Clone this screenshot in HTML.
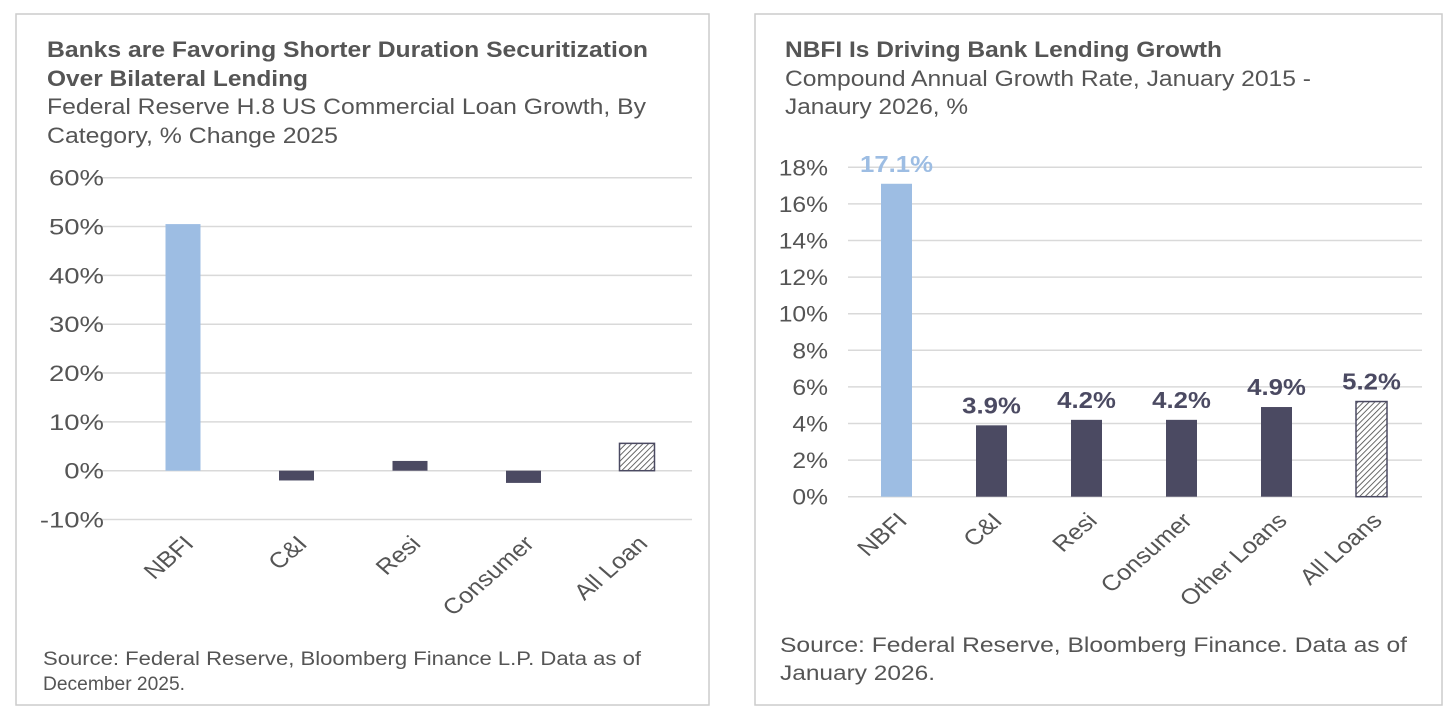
<!DOCTYPE html>
<html><head><meta charset="utf-8">
<style>
html,body{margin:0;padding:0;background:#fff;width:1456px;height:717px;overflow:hidden;font-family:"Liberation Sans",Arial,sans-serif;}
svg{position:absolute;left:0;top:0;}
</style></head>
<body>
<svg id="c" width="1456" height="717" xmlns="http://www.w3.org/2000/svg">
<defs>
<pattern id="hatch" width="4" height="4" patternUnits="userSpaceOnUse" patternTransform="rotate(45)">
<rect width="4" height="4" fill="#fff"/><line x1="0" y1="0" x2="0" y2="4" stroke="#444" stroke-width="1.6"/>
</pattern>
</defs>
<rect x="16" y="14" width="693" height="691" fill="none" stroke="#ccc" stroke-width="1.5"/>
<rect x="755" y="14" width="687" height="691" fill="none" stroke="#ccc" stroke-width="1.5"/>
<g font-family="Liberation Sans, Arial, sans-serif" fill="#555" lengthAdjust="spacingAndGlyphs">
<text x="47" y="57" font-size="22" font-weight="bold" textLength="601" lengthAdjust="spacingAndGlyphs">Banks are Favoring Shorter Duration Securitization</text>
<text x="47" y="86" font-size="22" font-weight="bold" textLength="261" lengthAdjust="spacingAndGlyphs">Over Bilateral Lending</text>
<text x="47" y="114" font-size="22" textLength="599" lengthAdjust="spacingAndGlyphs">Federal Reserve H.8 US Commercial Loan Growth, By</text>
<text x="47" y="143" font-size="22" textLength="291" lengthAdjust="spacingAndGlyphs">Category, % Change 2025</text>
<text x="43" y="665" font-size="19" textLength="598" lengthAdjust="spacingAndGlyphs">Source: Federal Reserve, Bloomberg Finance L.P. Data as of</text>
<text x="43" y="690" font-size="19" textLength="142" lengthAdjust="spacingAndGlyphs">December 2025.</text>
<text x="785" y="57" font-size="22" font-weight="bold" textLength="437" lengthAdjust="spacingAndGlyphs">NBFI Is Driving Bank Lending Growth</text>
<text x="785" y="86" font-size="22" textLength="526" lengthAdjust="spacingAndGlyphs">Compound Annual Growth Rate, January 2015 -</text>
<text x="785" y="114" font-size="22" textLength="183" lengthAdjust="spacingAndGlyphs">Janaury 2026, %</text>
<text x="780" y="652" font-size="21" textLength="627" lengthAdjust="spacingAndGlyphs">Source: Federal Reserve, Bloomberg Finance. Data as of</text>
<text x="780" y="680" font-size="21" textLength="155" lengthAdjust="spacingAndGlyphs">January 2026.</text>
</g>
<g id="left"></g>
<g id="right"></g>
</svg>
<script>
const NS="http://www.w3.org/2000/svg";
const leftCategories=["NBFI","C&I","Resi","Consumer","All Loan"];
const leftValues=[50.5,-2.0,2.0,-2.5,5.6];
const leftTicks=[60,50,40,30,20,10,0,-10];
const rightCategories=["NBFI","C&I","Resi","Consumer","Other Loans","All Loans"];
const rightValues=[17.1,3.9,4.2,4.2,4.9,5.2];
const rightTicks=[18,16,14,12,10,8,6,4,2,0];

function mk(parent,tag,attrs){const e=document.createElementNS(NS,tag);for(const k in attrs)e.setAttribute(k,attrs[k]);parent.appendChild(e);return e;}

function drawChart(g,cfg){
  const y=v=>cfg.y0+v*(cfg.yTop-cfg.y0)/cfg.vTop;
  cfg.ticks.forEach(t=>{
    const l=mk(g,'line',{x1:cfg.gx0,x2:cfg.gx1,y1:y(t),y2:y(t),stroke:'#d9d9d9','stroke-width':1.5});
    
    
    const tx=mk(g,'text',{transform:`translate(${cfg.tickX},${y(t)+8}) scale(${cfg.tickSx},1)`,'text-anchor':'end','font-size':cfg.tickFs,fill:'#555','font-family':'Liberation Sans, Arial, sans-serif'});
    tx.textContent=t+'%';
    
    
  });
  const n=cfg.cats.length;
  cfg.cats.forEach((c,i)=>{
    const cx=cfg.x0+i*cfg.step, v=cfg.vals[i];
    const top=Math.min(y(v),y(0)), h=Math.abs(y(v)-y(0));
    const last=i===n-1;
    const fill=i===0?'#9dbde3':(last?'url(#hatch)':'#4b4a62');
    const r=mk(g,'rect',{x:cx-cfg.bw/2,y:top,width:cfg.bw,height:h,fill:fill,stroke:last?'#4b4a62':'none','stroke-width':1.5});
    
    
    const lab=mk(g,'text',{transform:`translate(${cx+12},${cfg.labY}) scale(1.15,1) rotate(-45)`,'text-anchor':'end','font-size':cfg.labFs,fill:'#555','font-family':'Liberation Sans, Arial, sans-serif'});
    lab.textContent=c;
    
    
    if(cfg.showVals){
      const vt=mk(g,'text',{transform:`translate(${cx},${y(v)-12}) scale(1.12,1)`,'text-anchor':'middle','font-size':23,'font-weight':'bold',fill:i===0?'#9dbde3':'#4b4a62','font-family':'Liberation Sans, Arial, sans-serif'});
      vt.textContent=v.toFixed(1)+'%';
      
      
    }
  });
}
drawChart(document.getElementById('left'),{cats:leftCategories,vals:leftValues,ticks:leftTicks,y0:470.7,yTop:177.7,vTop:60,gx0:94,gx1:692,tickX:104,tickFs:22,tickSx:1.25,x0:183,step:113.5,bw:35,labY:545,labFs:22,showVals:false});
drawChart(document.getElementById('right'),{cats:rightCategories,vals:rightValues,ticks:rightTicks,y0:496.7,yTop:167.3,vTop:18,gx0:848,gx1:1422,tickX:828,tickFs:22,tickSx:1.12,x0:896.5,step:95,bw:31,labY:522,labFs:22,showVals:true});
</script>
</body></html>
